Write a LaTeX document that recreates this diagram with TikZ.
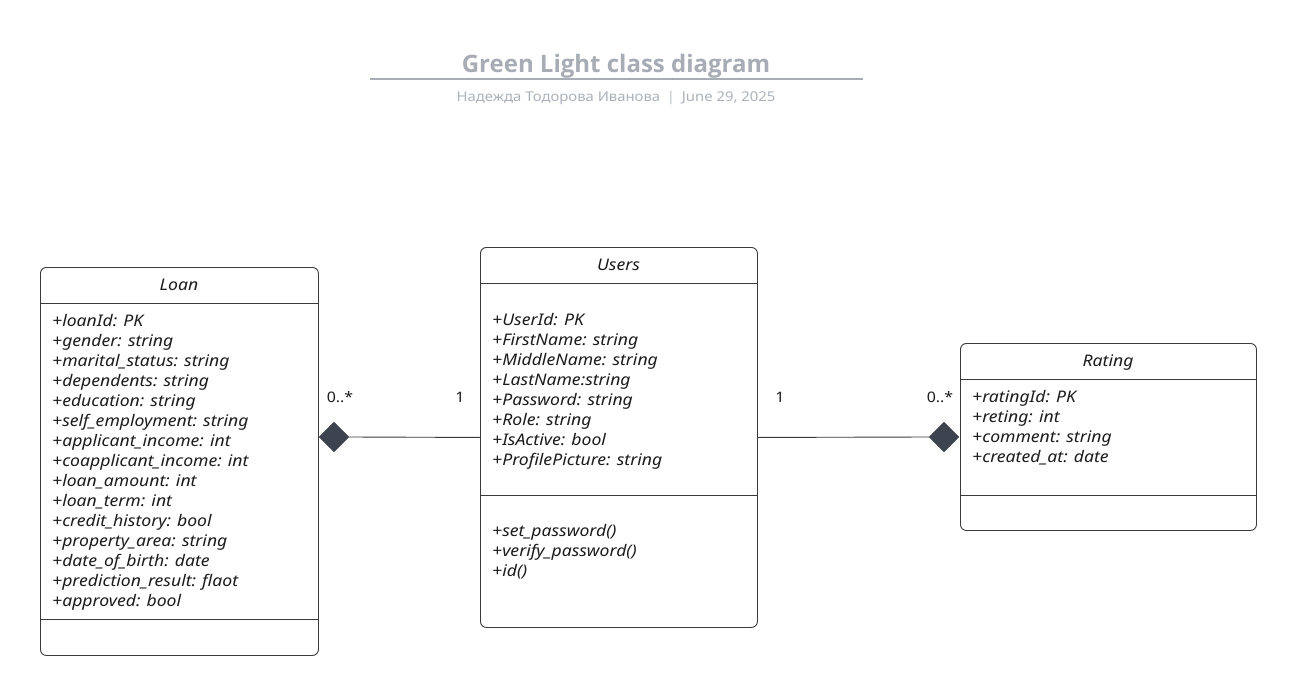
\documentclass[tikz,border=0pt]{standalone}
\usepackage{fontspec}
\setmainfont{Noto Sans}[FakeStretch=1.1]
\newfontfamily\titlefont{Open Sans}
\usetikzlibrary{shapes.geometric}
\definecolor{ttl}{HTML}{A7ACB5}
\definecolor{sub}{HTML}{ADB2BA}
\definecolor{edge}{HTML}{3A3A3A}
\definecolor{dia}{HTML}{3E4350}
\definecolor{txt}{HTML}{1C1C1C}
\tikzset{
 classbox/.style={draw=edge, line width=0.9pt, rounded corners=6pt, inner sep=0, anchor=north west},
 attr/.style={anchor=base west, inner sep=0, text=txt, font=\fontsize{16}{20}\selectfont\itshape},
 ctitle/.style={anchor=base, inner sep=0, text=txt, font=\fontsize{16}{20}\selectfont\itshape},
 mult/.style={anchor=base, inner sep=0, text=txt, font=\fontsize{14.5}{16}\selectfont},
 agg/.style={diamond, fill=dia, draw=dia, minimum width=30pt, minimum height=30pt, inner sep=0},
 conn/.style={draw=edge, line width=0.9pt},
 sepline/.style={draw=edge, line width=0.9pt}
}
\begin{document}
\begin{tikzpicture}[x=1pt,y=-1pt]
\useasboundingbox[fill=white] (0,0) rectangle (1297,695);
% title
\node[anchor=base, inner sep=0, text=ttl, font=\titlefont\fontsize{24}{28}\selectfont\bfseries] (title) at (616,73) {Green Light class diagram};
\coordinate (tl) at (370,79);
\coordinate (tr) at (863,79);
\draw[draw=ttl, line width=1.8pt] (tl) -- (tr);
\node[anchor=base, inner sep=0, text=sub, font=\fontsize{13.5}{16}\selectfont] (subtitle) at (616,102) {Надежда Тодорова Иванова\enspace\textcolor{sub!80}{|}\enspace June 29, 2025};

% Loan
\node[classbox, minimum width=278pt, minimum height=388pt] (loan) at (40,267) {};
\node[ctitle] (loant) at (179,290) {Loan};
\draw[sepline] (40,303) -- (318,303);
\draw[sepline] (40,619) -- (318,619);
\foreach \t [count=\i from 0] in {+loanId: PK,+gender: string,+marital\_status: string,+dependents: string,+education: string,+self\_employment: string,+applicant\_income: int,+coapplicant\_income: int,+loan\_amount: int,+loan\_term: int,+credit\_history: bool,+property\_area: string,+date\_of\_birth: date,+prediction\_result: flaot,+approved: bool}
  \node[attr] (loan-a\i) at (52,326+20*\i) {\t};

% Users
\node[classbox, minimum width=277pt, minimum height=380pt] (users) at (480,247) {};
\node[ctitle] (userst) at (618.5,270) {Users};
\draw[sepline] (480,283) -- (757,283);
\draw[sepline] (480,495) -- (757,495);
\foreach \t [count=\i from 0] in {+UserId: PK,+FirstName: string,+MiddleName: string,+LastName:string,+Password: string,+Role: string,+IsActive: bool,+ProfilePicture: string}
  \node[attr] (users-a\i) at (492,325+20*\i) {\t};
\foreach \t [count=\i from 0] in {+set\_password(),+verify\_password(),+id()}
  \node[attr] (users-m\i) at (492,536+20*\i) {\t};

% Rating
\node[classbox, minimum width=296pt, minimum height=187pt] (rating) at (960,343) {};
\node[ctitle] (ratingt) at (1108,366) {Rating};
\draw[sepline] (960,379) -- (1256,379);
\draw[sepline] (960,495) -- (1256,495);
\foreach \t [count=\i from 0] in {+ratingId: PK,+reting: int,+comment: string,+created\_at: date}
  \node[attr] (rating-a\i) at (972,402+20*\i) {\t};

% connectors
\node[agg] (dl) at (334,437) {};
\node[agg] (dr) at (944,437) {};
\draw[conn] (dl.east) -- (users.west);
\draw[conn] (users.east) -- (dr.west);
\node[mult] (m1) at (340,402) {0..*};
\node[mult] (m2) at (460,402) {1};
\node[mult] (m3) at (780,402) {1};
\node[mult] (m4) at (940,402) {0..*};
\end{tikzpicture}
\end{document}
